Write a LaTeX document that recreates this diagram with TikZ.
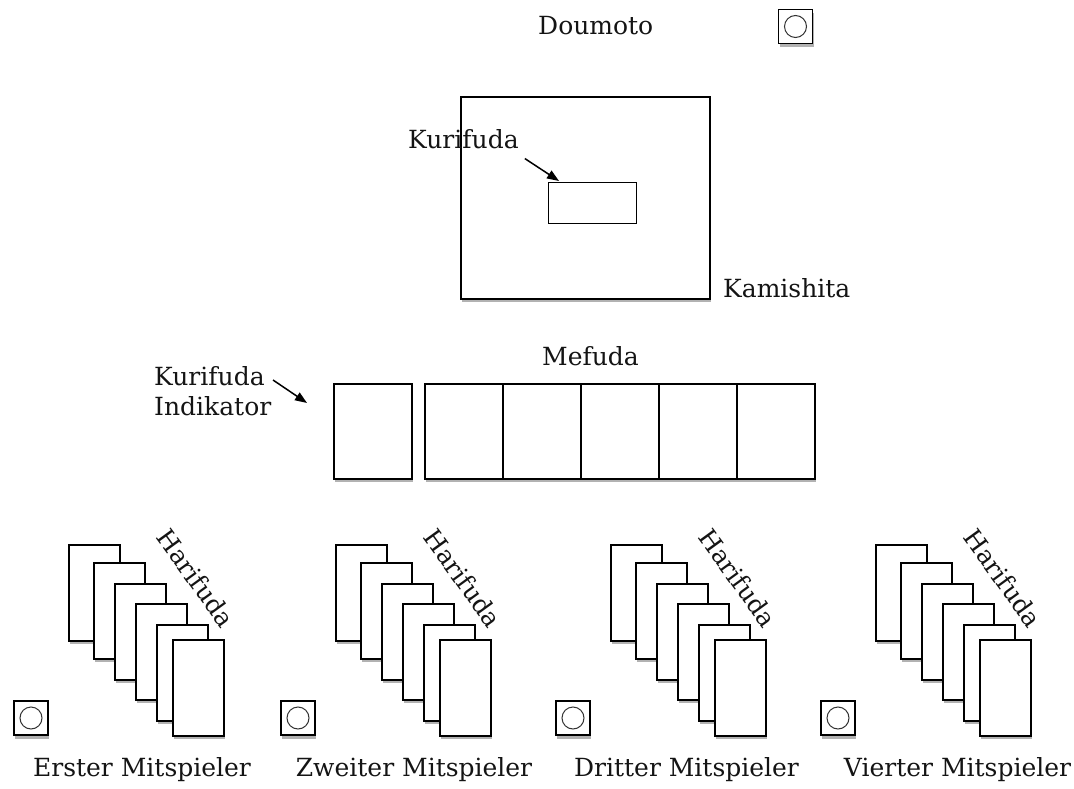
\documentclass[tikz,border=0pt]{standalone}
\usepackage{fontspec}
\setmainfont{DejaVu Serif}
\usetikzlibrary{arrows.meta,shadows}
\begin{document}
\begin{tikzpicture}[x=1pt,y=-1pt,
  lbl/.style={inner sep=0pt, text=black!92, font=\fontsize{25}{30}\selectfont},
  sh/.style={drop shadow={opacity=0.3, shadow xshift=1.2pt, shadow yshift=-3.5pt, fill=black}},
  box/.style={draw=black, line width=1.8pt, fill=white, inner sep=0pt, anchor=north west},
  hcard/.style={box, sh, minimum width=51pt, minimum height=96pt},
  mcard/.style={box, sh, minimum width=78pt, minimum height=95pt},
  iconbox/.style={draw=black, line width=1.8pt, fill=white, inner sep=0pt, minimum size=34pt, sh},
  iconcirc/.style={circle, draw=black!80, line width=1pt, inner sep=0pt, minimum size=22pt},
  arr/.style={line width=1.5pt, -{Triangle[length=12pt,width=9pt]}}
]
\useasboundingbox (0,0) rectangle (1074,789);

% top
\node[lbl, anchor=base west] (doumoto) at (538,35) {Doumoto};
\node[iconbox] (dicon) at (795.5,26.5) {};
\node[iconcirc] (dcirc) at (dicon) {};

\node[box, sh, minimum width=249pt, minimum height=202pt] (kami) at (460,96) {};
\node[box, line width=1.3pt, minimum width=88pt, minimum height=41pt] (kurirect) at (548,182) {};
\node[lbl, anchor=base west] (kurilbl) at (408,149) {Kurifuda};
\draw[arr] ([xshift=6pt,yshift=-9pt]kurilbl.south east) -- ([xshift=11pt,yshift=1pt]kurirect.north west);
\node[lbl, anchor=base west] (kamilbl) at (723,297) {Kamishita};

% Mefuda
\node[lbl, anchor=base] (mefuda) at (590.5,365) {Mefuda};
\node[mcard] (ind) at (333,383) {};
\foreach \x [count=\i] in {424,502,580,658,736}
  \node[mcard] (m\i) at (\x,383) {};
\node[lbl, anchor=north west, align=left] (indlbl) at (154,366) {Kurifuda\\Indikator};
\draw[arr] ([xshift=119pt,yshift=-14pt]indlbl.north west) -- ([xshift=-26pt,yshift=-20pt]ind.north west);

% players
\foreach \o/\cx/\name [count=\k] in {0/142/Erster,267/414/Zweiter,542/686.5/Dritter,807/957.5/Vierter}{
  \foreach \dx/\dy [count=\j] in {68/544,93/562,114/583,135/603,156/624,172/639}
    \node[hcard] (g\k-c\j) at (\o+\dx,\dy) {};
  \node[lbl, rotate=-54] (g\k-h) at (\o+196,578) {Harifuda};
  \node[iconbox] (g\k-icon) at (\o+31,718) {};
  \node[iconcirc] (g\k-circ) at (g\k-icon) {};
  \node[lbl, anchor=base] (g\k-lbl) at (\cx,776) {\name\ Mitspieler};
}
\end{tikzpicture}
\end{document}
